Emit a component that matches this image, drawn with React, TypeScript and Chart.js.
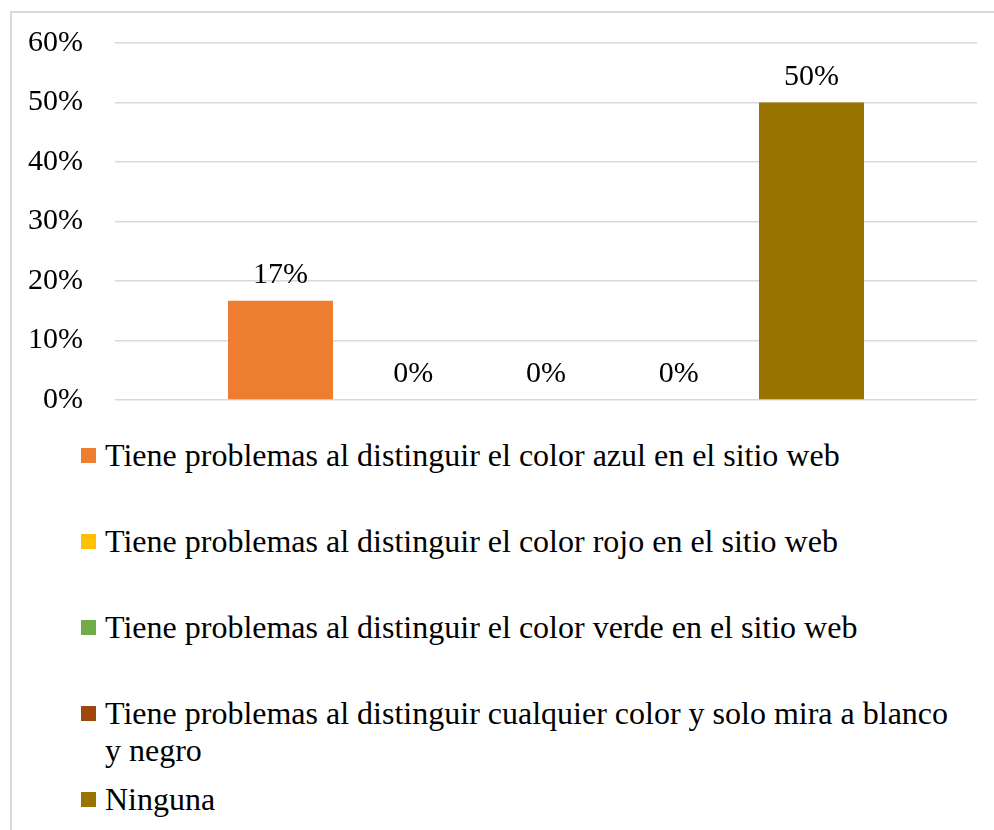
import React, { useEffect, useRef } from "react";
import { Chart, registerables } from "chart.js";

Chart.register(...registerables);

const categories = [""];
const seriesNames = [
  "Tiene problemas al distinguir el color azul en el sitio web",
  "Tiene problemas al distinguir el color rojo en el sitio web",
  "Tiene problemas al distinguir el color verde en el sitio web",
  "Tiene problemas al distinguir cualquier color y solo mira a blanco y negro",
  "Ninguna",
];
const seriesValues = [16.67, 0, 0, 0, 50];
const seriesColors = ["#ED7D31", "#FFC000", "#70AD47", "#9E480E", "#997300"];
const yTicks = [0, 10, 20, 30, 40, 50, 60];

const FONT = "'Liberation Serif', 'Times New Roman', serif";

const valueLabels = {
  id: "valueLabels",
  afterDatasetsDraw(chart: any) {
    const ctx = chart.ctx;
    ctx.save();
    ctx.font = `30px ${FONT}`;
    ctx.fillStyle = "#000";
    ctx.textAlign = "center";
    ctx.textBaseline = "alphabetic";
    chart.data.datasets.forEach((ds: any, i: number) => {
      const meta = chart.getDatasetMeta(i);
      meta.data.forEach((el: any, j: number) => {
        const v = ds.data[j];
        ctx.fillText(`${Math.round(v)}%`, el.x, el.y - 18);
      });
    });
    ctx.restore();
  },
};

export default function App() {
  const ref = useRef<HTMLCanvasElement>(null);
  useEffect(() => {
    if (!ref.current) return;
    const chart = new Chart(ref.current, {
      type: "bar",
      data: {
        labels: categories,
        datasets: seriesNames.map((name, i) => ({
          label: name,
          data: [seriesValues[i]],
          backgroundColor: seriesColors[i],
          borderWidth: 0,
          categoryPercentage: 0.77,
          barPercentage: 0.791,
        })),
      },
      options: {
        animation: false,
        responsive: false,
        maintainAspectRatio: false,
        layout: { padding: { left: 0, right: 17, top: 30, bottom: 33 } },
        plugins: {
          legend: { display: false },
          tooltip: { enabled: false },
          title: { display: false },
        },
        scales: {
          x: { display: false },
          y: {
            min: 0,
            max: 60,
            afterFit: (s: any) => {
              s.width = 103;
              s.paddingTop = 0;
              s.paddingBottom = 0;
            },
            afterBuildTicks: (s: any) => {
              s.ticks = yTicks.map((v) => ({ value: v }));
            },
            ticks: {
              padding: 32,
              color: "#000",
              font: { family: FONT, size: 30 },
              callback: (v: any) => `${v}%`,
            },
            grid: { color: "#d9d9d9", lineWidth: 1.5, drawTicks: false },
            border: { display: false },
          },
        },
      },
      plugins: [valueLabels],
    });
    return () => chart.destroy();
  }, []);

  return (
    <div
      style={{
        position: "absolute",
        left: 10,
        top: 11,
        width: 984,
        height: 819,
        borderTop: "2px solid #d9d9d9",
        borderLeft: "2px solid #d9d9d9",
        boxSizing: "border-box",
        background: "#fff",
      }}
    >
      <canvas ref={ref} width={982} height={420} style={{ display: "block" }} />
      <div style={{ position: "absolute", left: 69, top: 424 }}>
        {seriesNames.map((name, i) => (
          <div key={i} style={{ display: "flex", alignItems: "flex-start", height: 86 }}>
            <div
              style={{
                width: 15,
                height: 15,
                marginTop: 11,
                background: seriesColors[i],
                flex: "none",
              }}
            />
            <div
              style={{
                marginLeft: 9,
                width: 855,
                fontFamily: FONT,
                fontSize: 32,
                lineHeight: "37px",
                color: "#000",
              }}
            >
              {name}
            </div>
          </div>
        ))}
      </div>
    </div>
  );
}
